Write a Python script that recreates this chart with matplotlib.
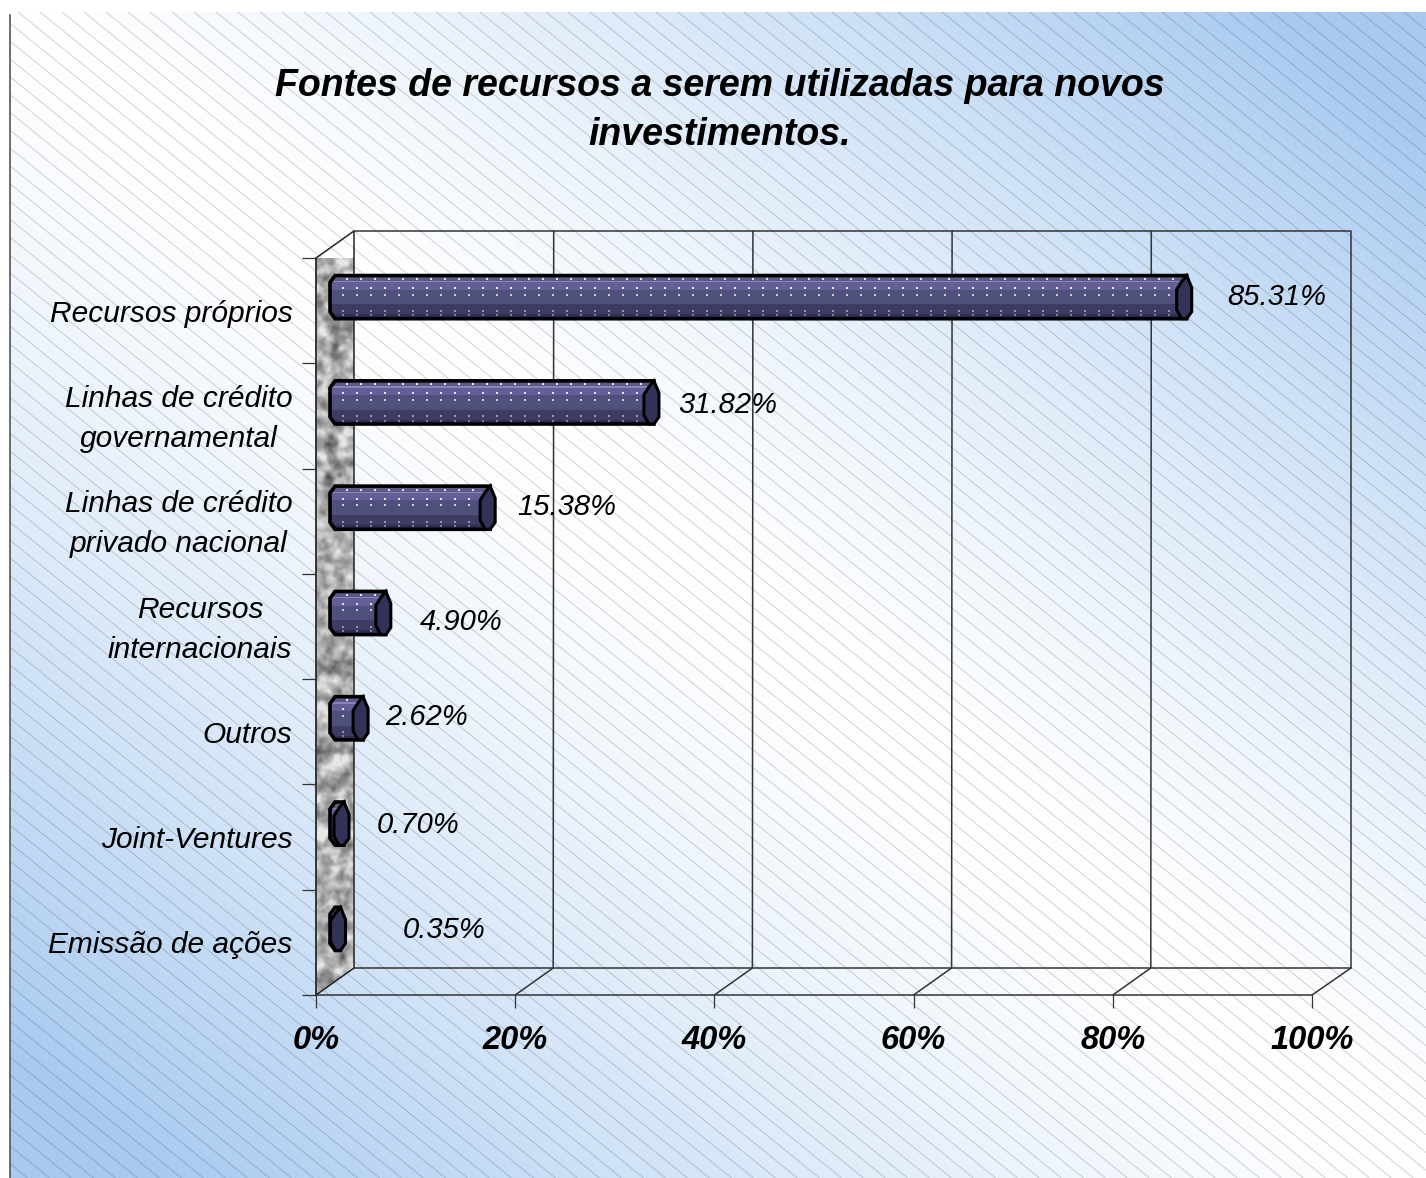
import numpy as np
import matplotlib
matplotlib.use('Agg')
import matplotlib.pyplot as plt
from matplotlib.patches import Polygon
from matplotlib.path import Path
from matplotlib.transforms import Affine2D, IdentityTransform

# Chart data
categories = ['Recursos próprios', 'Linhas de crédito\ngovernamental', 'Linhas de crédito\nprivado nacional',
              'Recursos\ninternacionais', 'Outros', 'Joint-Ventures', 'Emissão de ações']
values = [85.31, 31.82, 15.38, 4.90, 2.62, 0.70, 0.35]
x_ticks = [0, 20, 40, 60, 80, 100]
title = 'Fontes de recursos a serem utilizadas para novos\ninvestimentos.'

# Label offsets from the end of each bar, in pixels
label_dx = [111, 95, 98, 96, 84, 95, 125]
label_dy = [14, 11, 14, 4, 15, 12, 12]

W, H = 1426, 1178
plt.rcParams['font.family'] = ['Liberation Sans', 'DejaVu Sans']
fig = plt.figure(figsize=(W / 100, H / 100), dpi=100, facecolor='white')

# Background: gradient plus diagonal hatch
bg = fig.add_axes([0, 0, 1, 1])
bg.axis('off')
yy, xx = np.mgrid[0:1:300j, 0:1:360j]
t = (np.minimum(np.abs(xx - yy) / 0.9, 1) ** 1.3)[..., None]
white = np.array([1.0, 1.0, 1.0])
blue = np.array([0xa8, 0xca, 0xf0]) / 255
bg.imshow(white * (1 - t) + blue * t, extent=[10, W, H, 12], aspect='auto', interpolation='bilinear')
slope = 0.81
for c in np.arange(-1500, 1500, 22.0):
    start = max(c, 10)
    bg.plot([start, c + 1800], [12 + (start - c) * slope, 12 + 1800 * slope], color='black', alpha=0.2, lw=0.6,
            solid_capstyle='butt')
bg.plot([9.5, 9.5], [15, H], color='#555555', lw=1.2)
bg.set_xlim(0, W)
bg.set_ylim(H, 0)

# Front plane of the chart
ax = fig.add_axes([316 / W, 1 - 995 / H, (1312 - 316) / W, (995 - 258) / H])
ax.patch.set_alpha(0)
ax.set_xlim(0, 100)
ax.set_ylim(len(values), 0)
for s in ['top', 'right']:
    ax.spines[s].set_visible(False)
for s in ['left', 'bottom']:
    ax.spines[s].set_color('#333333')
    ax.spines[s].set_linewidth(1.1)

ax.set_xticks(x_ticks)
ax.set_xticklabels([f'{v}%' for v in x_ticks], fontsize=23.5, fontweight='bold', fontstyle='italic')
ax.tick_params(axis='x', length=9.5, width=0.9, color='#333333', pad=12)
ax.set_yticks(np.arange(len(values)) + 0.5)
ax.set_yticklabels(categories, fontsize=21.5, fontstyle='italic', multialignment='center', linespacing=1.55)
ax.tick_params(axis='y', which='major', length=0, pad=17)
ax.set_yticks(np.arange(len(values) + 1), minor=True)
ax.tick_params(axis='y', which='minor', length=10, width=0.9, color='#333333')

# Two-line labels sit a little higher than the tick centre
for tl, name in zip(ax.get_yticklabels(), categories):
    if '\n' in name:
        tl.set_transform(tl.get_transform() + Affine2D().translate(0, 6))

# Pixel coordinates measured from the top-left of the image
px = Affine2D().scale(1, -1).translate(0, H)
depth_x, depth_y = 38, 27
x0, x1, y0, y1 = 316, 1312, 258, 995

# Side wall with a stone-like texture
rng = np.random.default_rng(3)
noise = rng.normal(size=(764, 38))
fy = np.fft.fftfreq(764)[:, None]
fx = np.fft.fftfreq(38)[None, :]
f2 = fx ** 2 + fy ** 2
spec = np.fft.fft2(noise)
fine = np.fft.ifft2(spec * np.exp(-2 * np.pi ** 2 * 1.5 ** 2 * f2)).real
coarse = np.fft.ifft2(spec * np.exp(-2 * np.pi ** 2 * 4.0 ** 2 * f2)).real
noise = fine / fine.std() * 0.5 + coarse / coarse.std()
noise = (noise - noise.mean()) / noise.std()
wall_img = ax.imshow(np.clip(0.68 + 0.11 * noise, 0.3, 0.9), cmap='gray', vmin=0, vmax=1, aspect='auto',
                     extent=[x0, x0 + depth_x, y1, y0 - depth_y], transform=px, zorder=1, interpolation='bilinear')
wall_pts = [(x0, y0), (x0 + depth_x, y0 - depth_y), (x0 + depth_x, y1 - depth_y), (x0, y1)]
wall_img.set_clip_path(Path(wall_pts), px)
ax.add_patch(Polygon(wall_pts, closed=True, fill=False, ec='#222222', lw=1.1, transform=px, zorder=2, clip_on=False))
ax.set_xlim(0, 100)
ax.set_ylim(len(values), 0)

# Back wall, floor and grid
bx0, bx1 = x0 + depth_x, x1 + depth_x + 1
by0, by1 = y0 - depth_y, y1 - depth_y
ax.plot([bx0, bx1, bx1, bx0], [by0, by0, by1, by1], color='#333333', lw=1.1, transform=px, clip_on=False, zorder=2)
ax.plot([x1, bx1], [y1, by1], color='#333333', lw=1.1, transform=px, clip_on=False, zorder=2)
for v in x_ticks[1:-1]:
    fx_ = x0 + v * (x1 - x0) / 100
    ax.plot([fx_, fx_ + depth_x, fx_ + depth_x + 0.5], [y1, by1, by0], color='#333333', lw=1.1,
            transform=px, clip_on=False, zorder=2)

# Bars
bands = [(0.0, 0.13, '#5a5a8a'), (0.13, 0.16, '#8886b6'), (0.16, 0.33, '#615f96'),
         (0.33, 0.67, '#50507c'), (0.67, 0.90, '#3d3d63'), (0.90, 1.0, '#2e2e50')]
dot_rows = [(0.08, 1.0, 3.5), (0.29, 1.0, 0), (0.44, 0.85, 0), (0.82, 0.55, 0), (0.92, 0.45, 0)]
bar_height = 0.41
shift = Affine2D().translate(14, 13.5)
bar_tf = ax.transData + shift

for i, v in enumerate(values):
    yc = i + 0.5
    xs, ytop = (ax.transData + shift).transform((0, yc - bar_height / 2))
    xe, ybot = (ax.transData + shift).transform((v, yc + bar_height / 2))
    body = Path([(xs + 5, ytop), (xe + 7, ytop), (xe + 7, ybot), (xs + 5, ybot), (xs, ybot + 7), (xs, ytop - 7), (xs + 5, ytop)])
    for f0, f1, col in bands:
        rects = ax.barh(yc - bar_height / 2 + (f0 + f1) / 2 * bar_height, v + 0.7, height=(f1 - f0) * bar_height,
                        color=col, lw=0, transform=bar_tf, zorder=3, clip_on=True)
        rects[0].set_clip_path(body, IdentityTransform())
    for frac, alpha, off in dot_rows:
        dx = np.arange(xs + 13 + off, xe - 3, 14)
        if len(dx):
            ax.scatter(dx, np.full(len(dx), ytop - frac * (ytop - ybot)), s=3.2, marker='s', color='#e4e4f0', alpha=alpha,
                       linewidths=0, transform=IdentityTransform(), zorder=4, clip_on=False)
    ax.add_patch(Polygon(body.vertices, closed=True, fill=False, ec='black', lw=2.6,
                         transform=IdentityTransform(), zorder=5, clip_on=False))
    cap = [(xe + 7, ytop), (xe + 12, ytop - 12), (xe + 12, ybot + 7), (xe + 7, ybot), (xe + 2, ybot),
           (xe - 3, ybot + 9), (xe - 3, ytop - 14), (xe + 2, ytop - 6)]
    ax.add_patch(Polygon(cap, closed=True, fc='#33335a', ec='black', lw=2.2,
                         transform=IdentityTransform(), zorder=6, clip_on=False))
    ax.annotate(f'{v:.2f}%', xy=(v, yc), xytext=(label_dx[i], label_dy[i]), textcoords='offset pixels',
                ha='center', va='center', fontsize=21, fontstyle='italic', zorder=7, annotation_clip=False)

fig.text(720 / W, 1 - 110.5 / H, title, ha='center', va='center', fontsize=27, fontweight='bold', fontstyle='italic', linespacing=1.43)

fig.savefig('out.png', dpi=100)
